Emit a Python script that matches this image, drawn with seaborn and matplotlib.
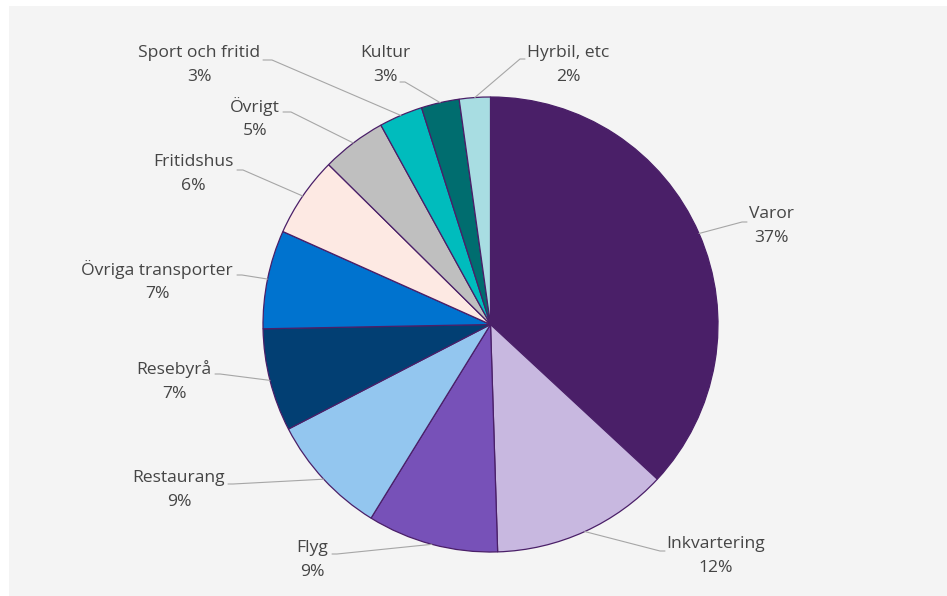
import seaborn as sns
import numpy as np
import matplotlib.pyplot as plt

sns.set_style("white")
plt.rcParams['font.family'] = ['Open Sans', 'DejaVu Sans']

# data
categories = ["Varor", "Inkvartering", "Flyg", "Restaurang", "Resebyrå",
              "Övriga transporter", "Fritidshus", "Övrigt", "Sport och fritid",
              "Kultur", "Hyrbil, etc"]
shares = [36.9, 12.6, 9.3, 8.6, 7.3, 7.0, 5.7, 4.6, 3.1, 2.7, 2.2]
pct_labels = [37, 12, 9, 9, 7, 7, 6, 5, 3, 3, 2]
colors = ["#4a1f68", "#c8b8e0", "#7751b8", "#93c6ef", "#023f73", "#0073cf",
          "#fde9e3", "#bfbfbf", "#00bcbd", "#006d6f", "#a8dde2"]

# label layout in pixels: text centre, elbow, end of leader
W, H = 947, 596
cx, cy, R = 490.5, 324.5, 227.5
text_px = [(771, 226), (716, 556), (312, 560), (179, 490), (174, 381),
           (157, 281), (193, 174), (255, 118), (199, 65), (385, 65), (568, 65)]
elbow_px = [(742, 222), (660, 551), (337, 554), (233, 484), (220, 374),
            (242, 275), (243, 170), (291, 112), (272, 60), (405, 82), (520, 59)]
end_px = [(747, 222), (665, 551), (332, 554), (228, 484), (215, 374),
          (237, 275), (237, 170), (283, 112), (263, 60), (400, 82), (525, 59)]


def to_data(p):
    return ((p[0] - cx) / R, (cy - p[1]) / R)


fig = plt.figure(figsize=(W / 100, H / 100), dpi=100)
fig.patch.set_facecolor("white")

# grey panel behind the chart
bg = fig.add_axes([9 / W, 0, 1 - 9 / W, 1 - 6 / H])
bg.set_facecolor("#f4f4f4")
bg.set_xticks([])
bg.set_yticks([])
for s in bg.spines.values():
    s.set_visible(False)

ax = fig.add_axes([0, 0, 1, 1])
ax.set_facecolor("none")

wedges, _ = ax.pie(shares, colors=colors, startangle=90, counterclock=False,
                   radius=1, center=(0, 0),
                   wedgeprops=dict(edgecolor="#4a1f68", linewidth=0.9))

for w, lab, val, t, e, n in zip(wedges, categories, pct_labels, text_px, elbow_px, end_px):
    mid = np.deg2rad((w.theta1 + w.theta2) / 2)
    p0 = (np.cos(mid), np.sin(mid))
    p1 = to_data(e)
    p2 = to_data(n)
    ax.plot([p0[0], p1[0], p2[0]], [p0[1], p1[1], p2[1]],
            color="#a6a6a6", lw=0.8, zorder=5)
    tx, ty = to_data(t)
    ax.text(tx, ty, f"{lab}\n{val}%", ha="center", va="center",
            fontsize=12.6, color="#454545", linespacing=1.6)

ax.set_xlim(-cx / R, (W - cx) / R)
ax.set_ylim((cy - H) / R, cy / R)
ax.set_aspect("auto")
ax.axis("off")

fig.savefig("out.png", dpi=100, facecolor=fig.get_facecolor())
